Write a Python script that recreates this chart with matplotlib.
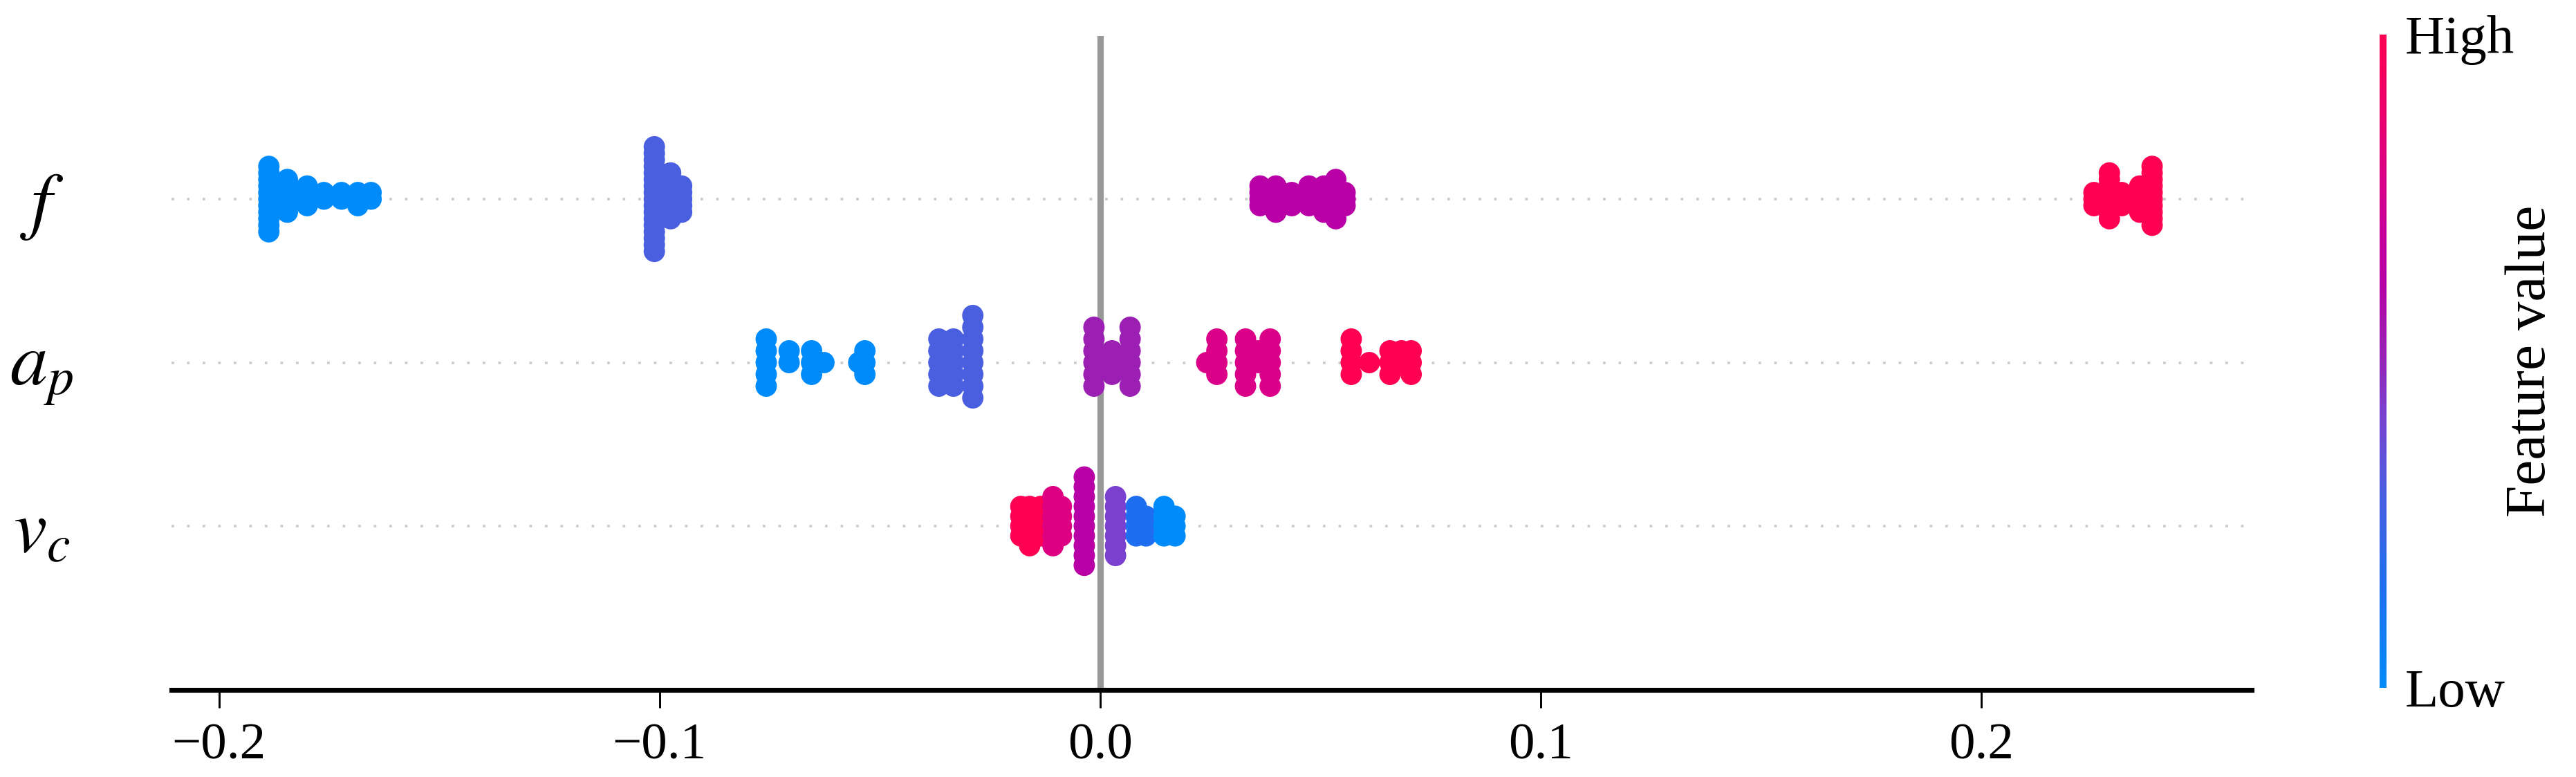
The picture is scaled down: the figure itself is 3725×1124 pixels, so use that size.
import numpy as np
import matplotlib
matplotlib.use("Agg")
from matplotlib import pyplot as plt
from matplotlib.colors import LinearSegmentedColormap, Normalize
from matplotlib.cm import ScalarMappable

plt.rcParams['font.family'] = 'serif'
plt.rcParams['font.serif'] = ['Liberation Serif', 'DejaVu Serif']
plt.rcParams['mathtext.fontset'] = 'stix'

# feature names, top row first
features = ['$f$', '$a_p$', '$v_c$']

# SHAP value columns, how many dots sit in each column,
# and the (normalised) feature value that sets the dot colour
f_vals = [-0.1887, -0.1845, -0.1800, -0.1762, -0.1722, -0.1685, -0.1655,
          -0.1012, -0.0975, -0.0950,
          0.0363, 0.0399, 0.0435, 0.0474, 0.0508, 0.0535, 0.0556,
          0.2256, 0.2291, 0.2319, 0.2360, 0.2388]
f_counts = [11, 6, 4, 2, 2, 3, 2,
            17, 8, 5,
            4, 5, 3, 4, 5, 7, 3,
            3, 8, 3, 5, 10]
f_levels = [0.0, 0.0, 0.0, 0.0, 0.0, 0.0, 0.0,
            0.30, 0.30, 0.30,
            0.62, 0.62, 0.62, 0.62, 0.62, 0.62, 0.62,
            1.0, 1.0, 1.0, 1.0, 1.0]

a_vals = [-0.0758, -0.0706, -0.0655, -0.0627, -0.0548, -0.0534,
          -0.0366, -0.0333, -0.0289,
          -0.0014, 0.0027, 0.0068,
          0.0242, 0.0265, 0.0330, 0.0358, 0.0386,
          0.0570, 0.0611, 0.0658, 0.0684, 0.0706]
a_counts = [5, 2, 3, 1, 1, 3,
            5, 5, 8,
            6, 3, 6,
            1, 4, 5, 2, 5,
            4, 1, 3, 2, 3]
a_levels = [0.0, 0.0, 0.0, 0.0, 0.0, 0.0,
            0.30, 0.30, 0.30,
            0.52, 0.52, 0.52,
            0.78, 0.78, 0.78, 0.78, 0.78,
            1.0, 1.0, 1.0, 1.0, 1.0]

v_vals = [-0.0180, -0.0160, -0.0135, -0.0107, -0.0088, -0.0036,
          0.0035, 0.0082, 0.0104, 0.0145, 0.0170]
v_counts = [4, 5, 4, 6, 4, 10, 7, 4, 3, 4, 3]
v_levels = [1.0, 1.0, 1.0, 0.8, 0.8, 0.62, 0.42, 0.15, 0.15, 0.0, 0.0]

red_blue = LinearSegmentedColormap.from_list('red_blue', [
    (0.00, '#008bfb'), (0.15, '#1f6ef0'), (0.30, '#4b5ee0'),
    (0.42, '#7a40cf'), (0.52, '#9a1fb2'), (0.62, '#b800a6'),
    (0.78, '#da0088'), (0.88, '#ec006c'), (1.00, '#ff0052')])


def swarm_offsets(vals, row_height=0.4):
    # same stacking as shap's beeswarm: dots with equal value pile up
    # alternately above and below the row line
    order = np.argsort(vals, kind='stable')
    ys = np.zeros(len(vals))
    layer = 0
    last = None
    for i in order:
        if vals[i] != last:
            layer = 0
        ys[i] = np.ceil(layer / 2) * ((layer % 2) * 2 - 1)
        layer += 1
        last = vals[i]
    ys *= 0.9 * (row_height / np.max(ys + 1))
    return ys


W, H = 3725, 1124
fig = plt.figure(figsize=(W / 300, H / 300), dpi=300)
ax = fig.add_axes([248 / W, 1 - 997.5 / H, (3256 - 248) / W, (997.5 - 51.5) / H])

rows = [(f_vals, f_counts, f_levels),
        (a_vals, a_counts, a_levels),
        (v_vals, v_counts, v_levels)]
positions = [2, 1, 0]

for pos, (vals, counts, levels) in zip(positions, rows):
    x = np.repeat(vals, counts)
    c = np.repeat(levels, counts)
    ax.axhline(pos, color='#cccccc', lw=0.9, dashes=(1, 5), zorder=-1)
    ys = swarm_offsets(x)
    ax.scatter(x, pos + ys, c=c, cmap=red_blue, vmin=0, vmax=1,
               s=55, linewidths=0, zorder=3)

ax.axvline(0, color='#999999', lw=2.2, zorder=-1)

ax.set_xlim(-0.2108, 0.2614)
ax.set_ylim(-1, 3)
ax.set_xticks([-0.2, -0.1, 0.0, 0.1, 0.2])
ax.set_yticks(positions, features)
for lbl in ax.get_yticklabels():
    lbl.set_ha('center')

for side in ['left', 'top', 'right']:
    ax.spines[side].set_visible(False)
ax.spines['bottom'].set_linewidth(1.7)
ax.tick_params(axis='x', length=6.2, width=0.7, pad=5.5, labelsize=18)
ax.tick_params(axis='y', length=0, pad=45, labelsize=26)

# colour bar
cax = fig.add_axes([3441 / W, 1 - 995 / H, 10 / W, 945 / H])
cb = fig.colorbar(ScalarMappable(norm=Normalize(0, 1), cmap=red_blue),
                  cax=cax, ticks=[0, 1])
cb.set_ticklabels(['Low', 'High'])
cb.outline.set_visible(False)
cax.tick_params(length=0, pad=6.5, labelsize=19)
fig.text(3660 / W, 1 - 522 / H, 'Feature value', rotation=90,
         ha='center', va='center', fontsize=20)

plt.savefig('out.png', dpi=300)
